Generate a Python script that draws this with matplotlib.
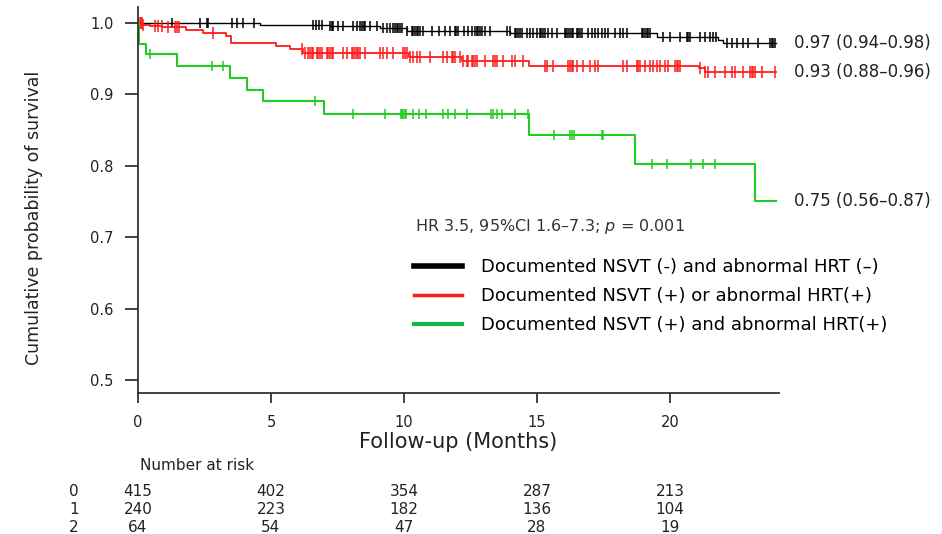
import numpy as np
import matplotlib.pyplot as plt
import matplotlib.transforms as mtransforms
from matplotlib.lines import Line2D

plt.rcParams['font.family'] = ['DejaVu Sans']

# step curves: event times (months) and survival after each step
t_black = [0, 4.6, 7.2, 9.1, 10.1, 14.0, 19.5, 21.8, 22.0]
s_black = [1.0, 0.997, 0.995, 0.992, 0.989, 0.985, 0.980, 0.976, 0.971]
t_red = [0, 0.2, 0.45, 0.9, 1.8, 2.45, 3.3, 3.5, 5.2, 5.7, 6.2, 10.2, 12.2, 14.7, 21.1, 21.3]
s_red = [1.0, 0.997, 0.996, 0.994, 0.990, 0.985, 0.982, 0.972, 0.968, 0.963, 0.958,
         0.952, 0.946, 0.939, 0.936, 0.931]
t_green = [0, 0.03, 0.3, 1.45, 3.45, 4.1, 4.7, 7.0, 14.7, 18.7, 23.2]
s_green = [1.0, 0.970, 0.956, 0.939, 0.923, 0.906, 0.890, 0.872, 0.843, 0.803, 0.750]
t_end = 24.0

# censored observations (months)
c_black = [1.27, 2.33, 2.58, 2.64, 3.52, 3.73, 3.96, 4.36, 6.59, 6.69, 6.82, 6.91,
           7.22, 7.28, 7.35, 7.53, 7.72, 8.1, 8.22, 8.35, 8.42, 8.48, 8.55, 8.72, 8.97,
           9.22, 9.35, 9.47, 9.6, 9.66, 9.73, 9.79, 9.85, 9.92, 10.1, 10.29, 10.35, 10.42,
           10.48, 10.54, 10.6, 10.73, 11.04, 11.3, 11.55, 11.73, 11.9, 11.96, 12.02, 12.26,
           12.42, 12.54, 12.67, 12.73, 12.8, 12.86, 12.92, 13.05, 13.23, 13.86, 13.98,
           14.17, 14.23, 14.3, 14.36, 14.42, 14.61, 14.74, 14.86, 14.99, 15.11, 15.17,
           15.24, 15.3, 15.43, 15.55, 15.74, 16.05, 16.11, 16.18, 16.24, 16.3, 16.37,
           16.49, 16.55, 16.62, 16.68, 16.93, 17.06, 17.18, 17.31, 17.43, 17.56, 17.68,
           17.93, 18.12, 18.25, 18.37, 18.94, 19.0, 19.06, 19.13, 19.19, 19.25, 19.75,
           20.0, 20.38, 20.63, 20.69, 20.75, 21.13, 21.31, 21.5, 21.63, 21.75, 22.13,
           22.32, 22.51, 22.76, 22.95, 23.32, 23.76, 23.82, 23.89, 23.95]
c_red = [0.08, 0.12, 0.16, 0.2, 0.64, 0.76, 0.89, 1.14, 1.39, 1.45, 1.55, 2.83, 6.15,
         6.28, 6.4, 6.47, 6.53, 6.59, 6.72, 6.78, 6.84, 6.9, 7.09, 7.15, 7.22, 7.28,
         7.34, 7.72, 7.84, 8.03, 8.09, 8.16, 8.22, 8.28, 8.35, 8.53, 9.1, 9.22, 9.35,
         9.6, 9.97, 10.03, 10.1, 10.23, 10.35, 10.48, 10.6, 10.98, 11.48, 11.6, 11.79,
         11.85, 11.92, 12.1, 12.23, 12.36, 12.42, 12.54, 12.6, 12.67, 12.73, 13.05,
         13.36, 13.42, 13.48, 13.73, 14.05, 14.17, 14.49, 15.3, 15.36, 15.61, 16.18,
         16.24, 16.3, 16.37, 16.49, 16.74, 16.99, 17.18, 17.31, 18.25, 18.37, 18.75,
         18.81, 18.87, 19.06, 19.25, 19.37, 19.5, 19.62, 19.81, 19.94, 20.19, 20.25,
         20.32, 20.38, 21.13, 21.31, 21.44, 21.69, 22.07, 22.32, 22.45, 22.76, 23.01,
         23.07, 23.14, 23.2, 23.45, 23.95]
c_green = [0.45, 2.77, 3.21, 6.65, 8.07, 9.29, 9.88, 9.93, 9.98, 10.03, 10.08, 10.33,
           10.58, 10.83, 11.48, 11.67, 11.92, 12.36, 13.29, 13.36, 13.48, 13.67, 14.17,
           14.67, 15.64, 16.24, 16.31, 16.39, 17.43, 17.5, 19.31, 19.9, 20.81, 21.23, 21.7]

end_labels = ['0.97 (0.94\u20130.98)', '0.93 (0.88\u20130.96)', '0.75 (0.56\u20130.87)']
legend_labels = ['Documented NSVT (-) and abnormal HRT (\u2013)',
                 'Documented NSVT (+) or abnormal HRT(+)',
                 'Documented NSVT (+) and abnormal HRT(+)']
risk_times = [0, 5, 10, 15, 20]
risk_black = [415, 402, 354, 287, 213]
risk_red = [240, 223, 182, 136, 104]
risk_green = [64, 54, 47, 28, 19]

txt = '#222222'
fig = plt.figure(figsize=(9.42, 5.34), dpi=100)
ax = fig.add_axes([138 / 942, 1 - 393 / 534, (779 - 138) / 942, (393 - 7) / 534])


def surv_at(times, surv, pts):
    idx = np.searchsorted(times, pts, side='right') - 1
    return np.asarray(surv)[idx]


curves = [
    (t_black, s_black, c_black, 'black', 1.0, 6.5),
    (t_red, s_red, c_red, '#ff1a1a', 1.3, 8.5),
    (t_green, s_green, c_green, '#22cc22', 1.5, 7.5),
]
for (t, s, c, col, lw, ms), lab in zip(curves, end_labels):
    ax.step(t + [t_end], s + [s[-1]], where='post', color=col, lw=lw)
    ax.plot(c, surv_at(t, s, c), ls='none', marker='|', color=col, ms=ms, mew=1.1)
    ax.annotate(lab, xy=(t_end, s[-1]), xytext=(13, 0), textcoords='offset points',
                fontsize=12, color=txt, va='center', ha='left',
                annotation_clip=False)

ax.set_xlim(0, 24.1)
ax.set_ylim(0.482, 1.022)
ax.set_xticks([0, 5, 10, 15, 20])
ax.set_yticks([0.5, 0.6, 0.7, 0.8, 0.9, 1.0])
ax.set_yticklabels(['0.5', '0.6', '0.7', '0.8', '0.9', '1.0'])
ax.spines['top'].set_visible(False)
ax.spines['right'].set_visible(False)
for sp in ['left', 'bottom']:
    ax.spines[sp].set_linewidth(1.3)
    ax.spines[sp].set_color('#333333')
ax.tick_params(axis='y', length=9.5, width=1.3, colors='#333333', labelsize=10.5, pad=8,
               labelcolor=txt)
ax.tick_params(axis='x', length=7, width=1.3, colors='#333333', labelsize=10.5, pad=9,
               labelcolor=txt)
ax.set_xlabel('Follow-up (Months)', fontsize=15, labelpad=1, color=txt)
ax.set_ylabel('Cumulative probability of survival', fontsize=12.5, color=txt)
ax.yaxis.set_label_coords(-0.148, 0.453)

ax.text(0.432, 0.4326, 'HR 3.5, 95%CI 1.6\u20137.3; $p$ = 0.001', transform=ax.transAxes,
        fontsize=11.5, color='#333333', va='center', ha='left')

handles = [Line2D([], [], color='black', lw=4),
           Line2D([], [], color='#ff1a1a', lw=2.5),
           Line2D([], [], color='#11b84a', lw=3)]
fig.legend(handles, legend_labels, loc='center left',
           bbox_to_anchor=(414 / 942, 1 - 296 / 534), frameon=False, fontsize=13,
           handlelength=2.66, handletextpad=1.05, labelspacing=0.6,
           borderpad=0, borderaxespad=0)

# number at risk table
trans = mtransforms.blended_transform_factory(ax.transData, fig.transFigure)
fig.text(140 / 942, 1 - 465 / 534, 'Number at risk', fontsize=11, va='center',
         ha='left', color=txt)
for row, (grp, vals) in enumerate(zip(['0', '1', '2'], [risk_black, risk_red, risk_green])):
    y = 1 - (492 + row * 18) / 534
    fig.text(74 / 942, y, grp, fontsize=11, va='center', ha='center', color=txt)
    for tx, v in zip(risk_times, vals):
        ax.text(tx, y, str(v), transform=trans, fontsize=11, va='center', ha='center',
                color=txt, clip_on=False)

fig.savefig('out.png', dpi=100)
